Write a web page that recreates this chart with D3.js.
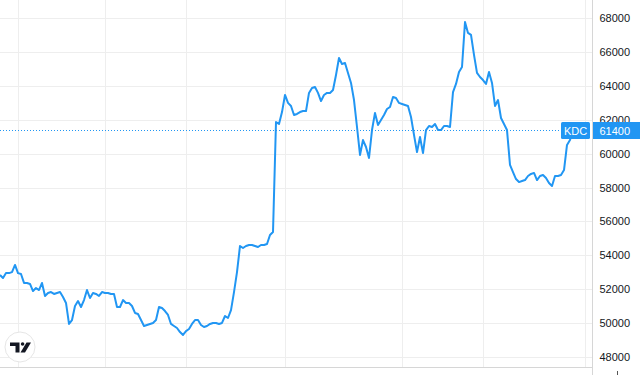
<!DOCTYPE html>
<html>
<head>
<meta charset="utf-8">
<script src="https://cdn.jsdelivr.net/npm/d3@7"></script>
<style>
  html, body { margin: 0; padding: 0; background: #fff; overflow: hidden; }
  text { font-family: "Liberation Sans", Arial, sans-serif; }
</style>
</head>
<body>
<svg></svg>
<script>
// daily closing prices, KDC
const prices = [
  52840, 52660, 52950, 52950, 53010, 53430, 52950, 52900, 52370, 52370,
  52310, 51890, 52070, 51950, 52370, 51600, 51780, 51830, 51720, 51780,
  51830, 51540, 51190, 49950, 50180, 51010, 51300, 50950, 51360, 51950,
  51480, 51780, 51720, 51600, 51830, 51780, 51780, 51720, 51720, 50950,
  50950, 51360, 51190, 51190, 51010, 50600, 50540, 50180, 49830, 49890,
  49950, 50010, 50180, 50950, 50890, 50710, 50480, 49950, 49830, 49710,
  49470, 49300, 49530, 49650, 49950, 50180, 50180, 49890, 49770, 49830,
  49950, 50010, 50010, 49950, 50010, 50420, 50300, 50770, 51830, 53010,
  54550, 54430, 54550, 54610, 54610, 54550, 54490, 54610, 54610, 54670,
  55200, 55370, 61860, 61750, 62450, 63460, 62990, 62810, 62280, 62340,
  62450, 62510, 62510, 63580, 63870, 63930, 63580, 63100, 63460, 63580,
  63580, 63750, 64640, 65640, 65290, 65350, 64760, 64170, 63160, 61570,
  59920, 60800, 60390, 59740, 61390, 62400, 61690, 61980, 62280, 62630,
  62750, 63340, 63280, 62990, 62930, 62870, 62810, 62160, 61100, 60090,
  60980, 60030, 61390, 61630, 61570, 61750, 61390, 61390, 61630, 61630,
  61570, 63630, 64110, 64810, 65110, 67760, 67120, 67000, 65820, 64760,
  64520, 64340, 64110, 64810, 64170, 62810, 63160, 62100, 61750, 61390,
  59330, 58910, 58500, 58320, 58380, 58440, 58680, 58800, 58860, 58440,
  58680, 58740, 58560, 58270, 58090, 58680, 58680, 58740, 59030, 60510,
  60800, 61400
];
// index of first trading day of each month (vertical grid)
const monthTicks = [6, 35, 62, 95, 134, 161, 195];
const priceTicks = [48000, 50000, 52000, 54000, 56000, 58000, 60000, 62000, 64000, 66000, 68000];
const symbol = "KDC";
const lastPrice = 61400;

const W = 640, H = 375;
const plotR = 592, plotB = 367;
const blue = "#2196f3";

const svg = d3.select("svg").attr("width", W).attr("height", H);

const x = d3.scaleLinear().domain([0, prices.length - 1]).range([0, 573]);
const y = d3.scaleLinear().domain([48000, 68000]).range([357, 18]);

// grid
svg.append("g").selectAll("line")
  .data(priceTicks)
  .enter().append("line")
  .attr("x1", 0).attr("x2", plotR)
  .attr("y1", d => Math.round(y(d)) + 0.5).attr("y2", d => Math.round(y(d)) + 0.5)
  .attr("stroke", "#eeeeee");

svg.append("g").selectAll("line")
  .data(monthTicks)
  .enter().append("line")
  .attr("x1", d => Math.round(x(d)) + 0.5).attr("x2", d => Math.round(x(d)) + 0.5)
  .attr("y1", 0).attr("y2", plotB)
  .attr("stroke", "#eeeeee");

// borders
svg.append("line")
  .attr("x1", plotR + 0.5).attr("x2", plotR + 0.5)
  .attr("y1", 0).attr("y2", H)
  .attr("stroke", "#d6d6d6");
svg.append("line")
  .attr("x1", 0).attr("x2", plotR)
  .attr("y1", plotB + 0.5).attr("y2", plotB + 0.5)
  .attr("stroke", "#d6d6d6");
svg.append("line")
  .attr("x1", 617.5).attr("x2", 617.5)
  .attr("y1", 371).attr("y2", H)
  .attr("stroke", "#555");

// price axis
const yAxis = svg.append("g")
  .attr("transform", `translate(${plotR},0)`)
  .call(d3.axisRight(y).tickValues(priceTicks).tickSize(0).tickFormat(d3.format("d")));
yAxis.select(".domain").remove();
yAxis.selectAll("text")
  .attr("x", 38)
  .attr("text-anchor", "end")
  .attr("fill", "#131722")
  .style("font-size", "11px");

// last price line
svg.append("line")
  .attr("x1", 0).attr("x2", 561)
  .attr("y1", 130.5).attr("y2", 130.5)
  .attr("stroke", blue)
  .attr("stroke-dasharray", "1 2");

// series
const line = d3.line()
  .x((d, i) => x(i))
  .y(d => y(d));
svg.append("path")
  .datum(prices)
  .attr("fill", "none")
  .attr("stroke", blue)
  .attr("stroke-width", 2)
  .attr("stroke-linejoin", "round")
  .attr("d", line);

// labels
const ly = Math.round(y(lastPrice));
svg.append("rect")
  .attr("x", 561).attr("y", ly - 8).attr("width", 29).attr("height", 17)
  .attr("rx", 1.5).attr("fill", blue);
svg.append("text")
  .attr("x", 575.5).attr("y", ly + 4.5)
  .attr("text-anchor", "middle")
  .attr("fill", "#fff")
  .style("font-size", "11px")
  .text(symbol);
svg.append("rect")
  .attr("x", plotR + 1).attr("y", ly - 8).attr("width", W - plotR - 1).attr("height", 17)
  .attr("fill", blue);
svg.append("text")
  .attr("x", 630).attr("y", ly + 4.5)
  .attr("text-anchor", "end")
  .attr("fill", "#fff")
  .style("font-size", "11px")
  .text(d3.format("d")(lastPrice));

// logo
const logo = svg.append("g");
logo.append("circle")
  .attr("cx", 20).attr("cy", 347).attr("r", 15)
  .attr("fill", "#fff").attr("stroke", "#e6e6e6");
logo.append("path")
  .attr("d", "M10,342.5H19.5V352.5H15.5V346H10Z")
  .attr("fill", "#131722");
logo.append("circle")
  .attr("cx", 22.6).attr("cy", 344).attr("r", 1.8)
  .attr("fill", "#131722");
logo.append("path")
  .attr("d", "M26.5,342.5H31L25,352.5H20.5Z")
  .attr("fill", "#131722");
</script>
</body>
</html>
